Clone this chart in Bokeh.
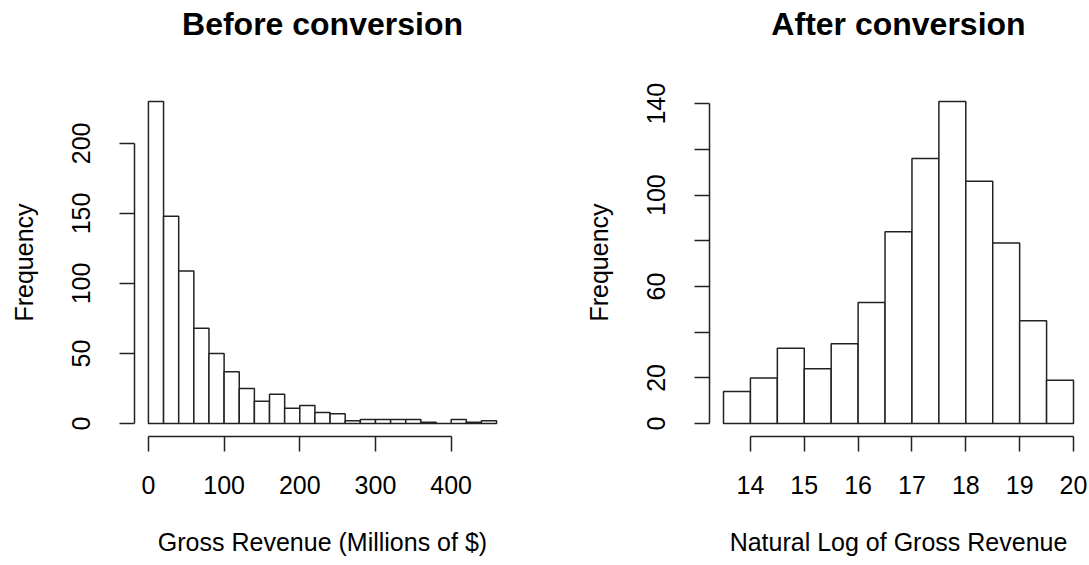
from bokeh.plotting import figure
from bokeh.layouts import row
from bokeh.models import Range1d, FixedTicker, Title
from bokeh.embed import file_html
from bokeh.resources import INLINE

# ---- data ----
before_edges = [0, 20, 40, 60, 80, 100, 120, 140, 160, 180, 200, 220, 240,
                260, 280, 300, 320, 340, 360, 380, 400, 420, 440, 460]
before_counts = [230, 148, 109, 68, 50, 37, 25, 16, 21, 11, 13, 8, 7,
                 2, 3, 3, 3, 3, 1, 0, 3, 1, 2]
before_xticks = [0, 100, 200, 300, 400]
before_yticks = [0, 50, 100, 150, 200]

after_edges = [13.5, 14.0, 14.5, 15.0, 15.5, 16.0, 16.5, 17.0, 17.5,
               18.0, 18.5, 19.0, 19.5, 20.0]
after_counts = [14, 20, 33, 24, 35, 53, 84, 116, 141, 106, 79, 45, 19]
after_xticks = [14, 15, 16, 17, 18, 19, 20]
after_yticks = [0, 20, 40, 60, 80, 100, 120, 140]
after_ylabels = {40: "", 80: "", 120: ""}

FONT = "Liberation Sans"
H = 565


def hist_panel(edges, counts, title, xlabel, xticks, yticks, ylabel_over,
               width, bl, br):
    lo, hi = edges[0], edges[-1]
    pad = 0.04 * (hi - lo)
    ymax = max(counts)
    p = figure(width=width, height=H, output_backend="svg",
               toolbar_location=None,
               x_range=Range1d(lo - pad, hi + pad),
               y_range=Range1d(-0.04 * ymax, ymax * 1.04),
               min_border_left=bl, min_border_right=br,
               min_border_top=88, min_border_bottom=H - 88 - 348)
    p.quad(left=edges[:-1], right=edges[1:], bottom=0, top=counts,
           fill_color="white", line_color="#222222", line_width=1.5)
    p.outline_line_color = None
    p.xgrid.visible = False
    p.ygrid.visible = False
    p.title.text = title
    p.title.align = "center"
    p.title.text_font = FONT
    p.title.text_font_size = "32px"
    p.title.text_font_style = "bold"
    p.title.text_color = "black"
    p.title.standoff = 4
    # blank spacer between the title and the plot frame
    p.add_layout(Title(text=" ", text_font_size="1px", standoff=42), "above")

    for ax in (p.xaxis[0], p.yaxis[0]):
        ax.axis_line_color = "#222222"
        ax.axis_line_width = 1.5
        ax.major_tick_line_color = "#222222"
        ax.major_tick_line_width = 1.5
        ax.major_tick_out = 15
        ax.major_tick_in = 0
        ax.minor_tick_out = 0
        ax.minor_tick_in = 0
        ax.major_label_text_font = FONT
        ax.major_label_text_font_size = "25px"
        ax.major_label_text_color = "black"
        ax.axis_label_text_font = FONT
        ax.axis_label_text_font_size = "25px"
        ax.axis_label_text_font_style = "normal"
        ax.axis_label_text_color = "black"

    xa = p.xaxis[0]
    xa.ticker = FixedTicker(ticks=xticks)
    xa.bounds = (xticks[0], xticks[-1])
    xa.axis_label = xlabel
    xa.major_label_standoff = 24
    xa.axis_label_standoff = 31

    ya = p.yaxis[0]
    ya.ticker = FixedTicker(ticks=yticks)
    ya.bounds = (yticks[0], yticks[-1])
    ya.axis_label = "Frequency"
    ya.major_label_orientation = "vertical"
    ya.major_label_standoff = 29
    ya.axis_label_standoff = 32
    if ylabel_over:
        ya.major_label_overrides = ylabel_over
    return p


p1 = hist_panel(before_edges, before_counts, "Before conversion",
                "Gross Revenue (Millions of $)", before_xticks, before_yticks,
                None, 560, 134, 50)
p2 = hist_panel(after_edges, after_counts, "After conversion",
                "Natural Log of Gross Revenue", after_xticks, after_yticks,
                after_ylabels, 529, 149, 2)

layout = row(p1, p2)
open("out.html", "w").write(file_html(layout, INLINE))
